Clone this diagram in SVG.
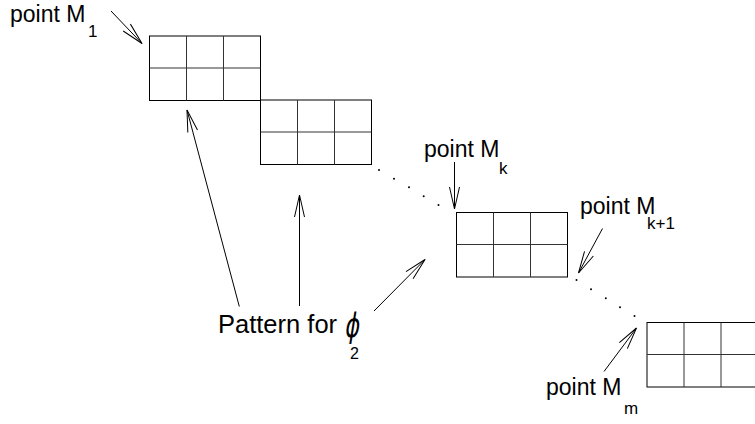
<svg xmlns="http://www.w3.org/2000/svg" width="755" height="424" viewBox="0 0 755 424">
  <style>
    .grid { fill: #fff; stroke: #000; stroke-width: 1; }
    .inner { stroke: #333; stroke-width: 1; fill: none; }
    .lbl { font-family: "Liberation Sans", Arial, sans-serif; font-size: 23px; fill: #000; }
    .sub { font-family: "Liberation Sans", Arial, sans-serif; font-size: 17px; fill: #000; }
    .arrow { stroke: #000; stroke-width: 1; fill: none; marker-end: url(#head); }
    .dot { fill: #000; }
  </style>
  <defs>
    <marker id="head" markerUnits="userSpaceOnUse" markerWidth="30" markerHeight="14" viewBox="-24 -7 26 14" refX="0" refY="0" orient="auto" overflow="visible">
      <path d="M-22,-5 L0,0 L-22,5" fill="none" stroke="#000" stroke-width="1"/>
    </marker>
    <!-- one 3x2 cell block, 111 x 64.5 -->
    <g id="cells">
      <rect class="grid" x="0" y="0" width="111" height="64.5"/>
      <path class="inner" d="M0,32 H111 M37,0 V64.5 M74,0 V64.5"/>
    </g>
  </defs>

  <!-- cell blocks -->
  <g id="block1" transform="translate(149.5,36)"><use href="#cells"/></g>
  <g id="block2" transform="translate(260.5,100)"><use href="#cells"/></g>
  <g id="block3" transform="translate(456.5,212.5)"><use href="#cells"/></g>
  <g id="block4" transform="translate(647,322.5)"><use href="#cells"/></g>

  <!-- labels -->
  <g id="label-m1">
    <text class="lbl" x="10" y="22">point M</text>
    <text class="sub" x="88" y="37">1</text>
  </g>
  <g id="label-mk">
    <text class="lbl" x="424" y="157">point M</text>
    <text class="sub" x="499" y="174">k</text>
  </g>
  <g id="label-mk1">
    <text class="lbl" x="580" y="214">point M</text>
    <text class="sub" x="647" y="229">k+1</text>
  </g>
  <g id="label-mm">
    <text class="lbl" x="546" y="395">point M</text>
    <text class="sub" x="624" y="414">m</text>
  </g>
  <g id="label-pattern">
    <text class="lbl" x="218" y="333" style="font-size:25.5px">Pattern for</text>
    <text transform="translate(344,337) skewX(-9) scale(0.8,1.2)" style="font-family:'DejaVu Sans',sans-serif;font-size:28px">ϕ</text>
    <text class="sub" x="350" y="359" style="font-size:16px">2</text>
  </g>

  <!-- connectors -->
  <g id="connectors">
    <line class="arrow" x1="111" y1="11" x2="142" y2="43.5"/>
    <line class="arrow" x1="454.5" y1="162" x2="454.5" y2="209"/>
    <line class="arrow" x1="602.5" y1="228.5" x2="578.5" y2="273"/>
    <line class="arrow" x1="604" y1="371.5" x2="636.5" y2="328"/>
    <line class="arrow" x1="239.3" y1="306.5" x2="187" y2="110"/>
    <line class="arrow" x1="299.5" y1="306" x2="299.5" y2="195"/>
    <line class="arrow" x1="374" y1="311" x2="425" y2="259.5"/>
    <!-- dotted runs between blocks -->
    <circle class="dot" cx="379" cy="170" r="1"/>
    <circle class="dot" cx="394" cy="178.7" r="1"/>
    <circle class="dot" cx="409" cy="187.3" r="1"/>
    <circle class="dot" cx="423.7" cy="196.2" r="1"/>
    <circle class="dot" cx="438.5" cy="205" r="1"/>
    <circle class="dot" cx="576.5" cy="280" r="1"/>
    <circle class="dot" cx="591" cy="289.2" r="1"/>
    <circle class="dot" cx="605.8" cy="298.3" r="1"/>
    <circle class="dot" cx="620" cy="307.3" r="1"/>
    <circle class="dot" cx="634.5" cy="316" r="1"/>
  </g>
</svg>
